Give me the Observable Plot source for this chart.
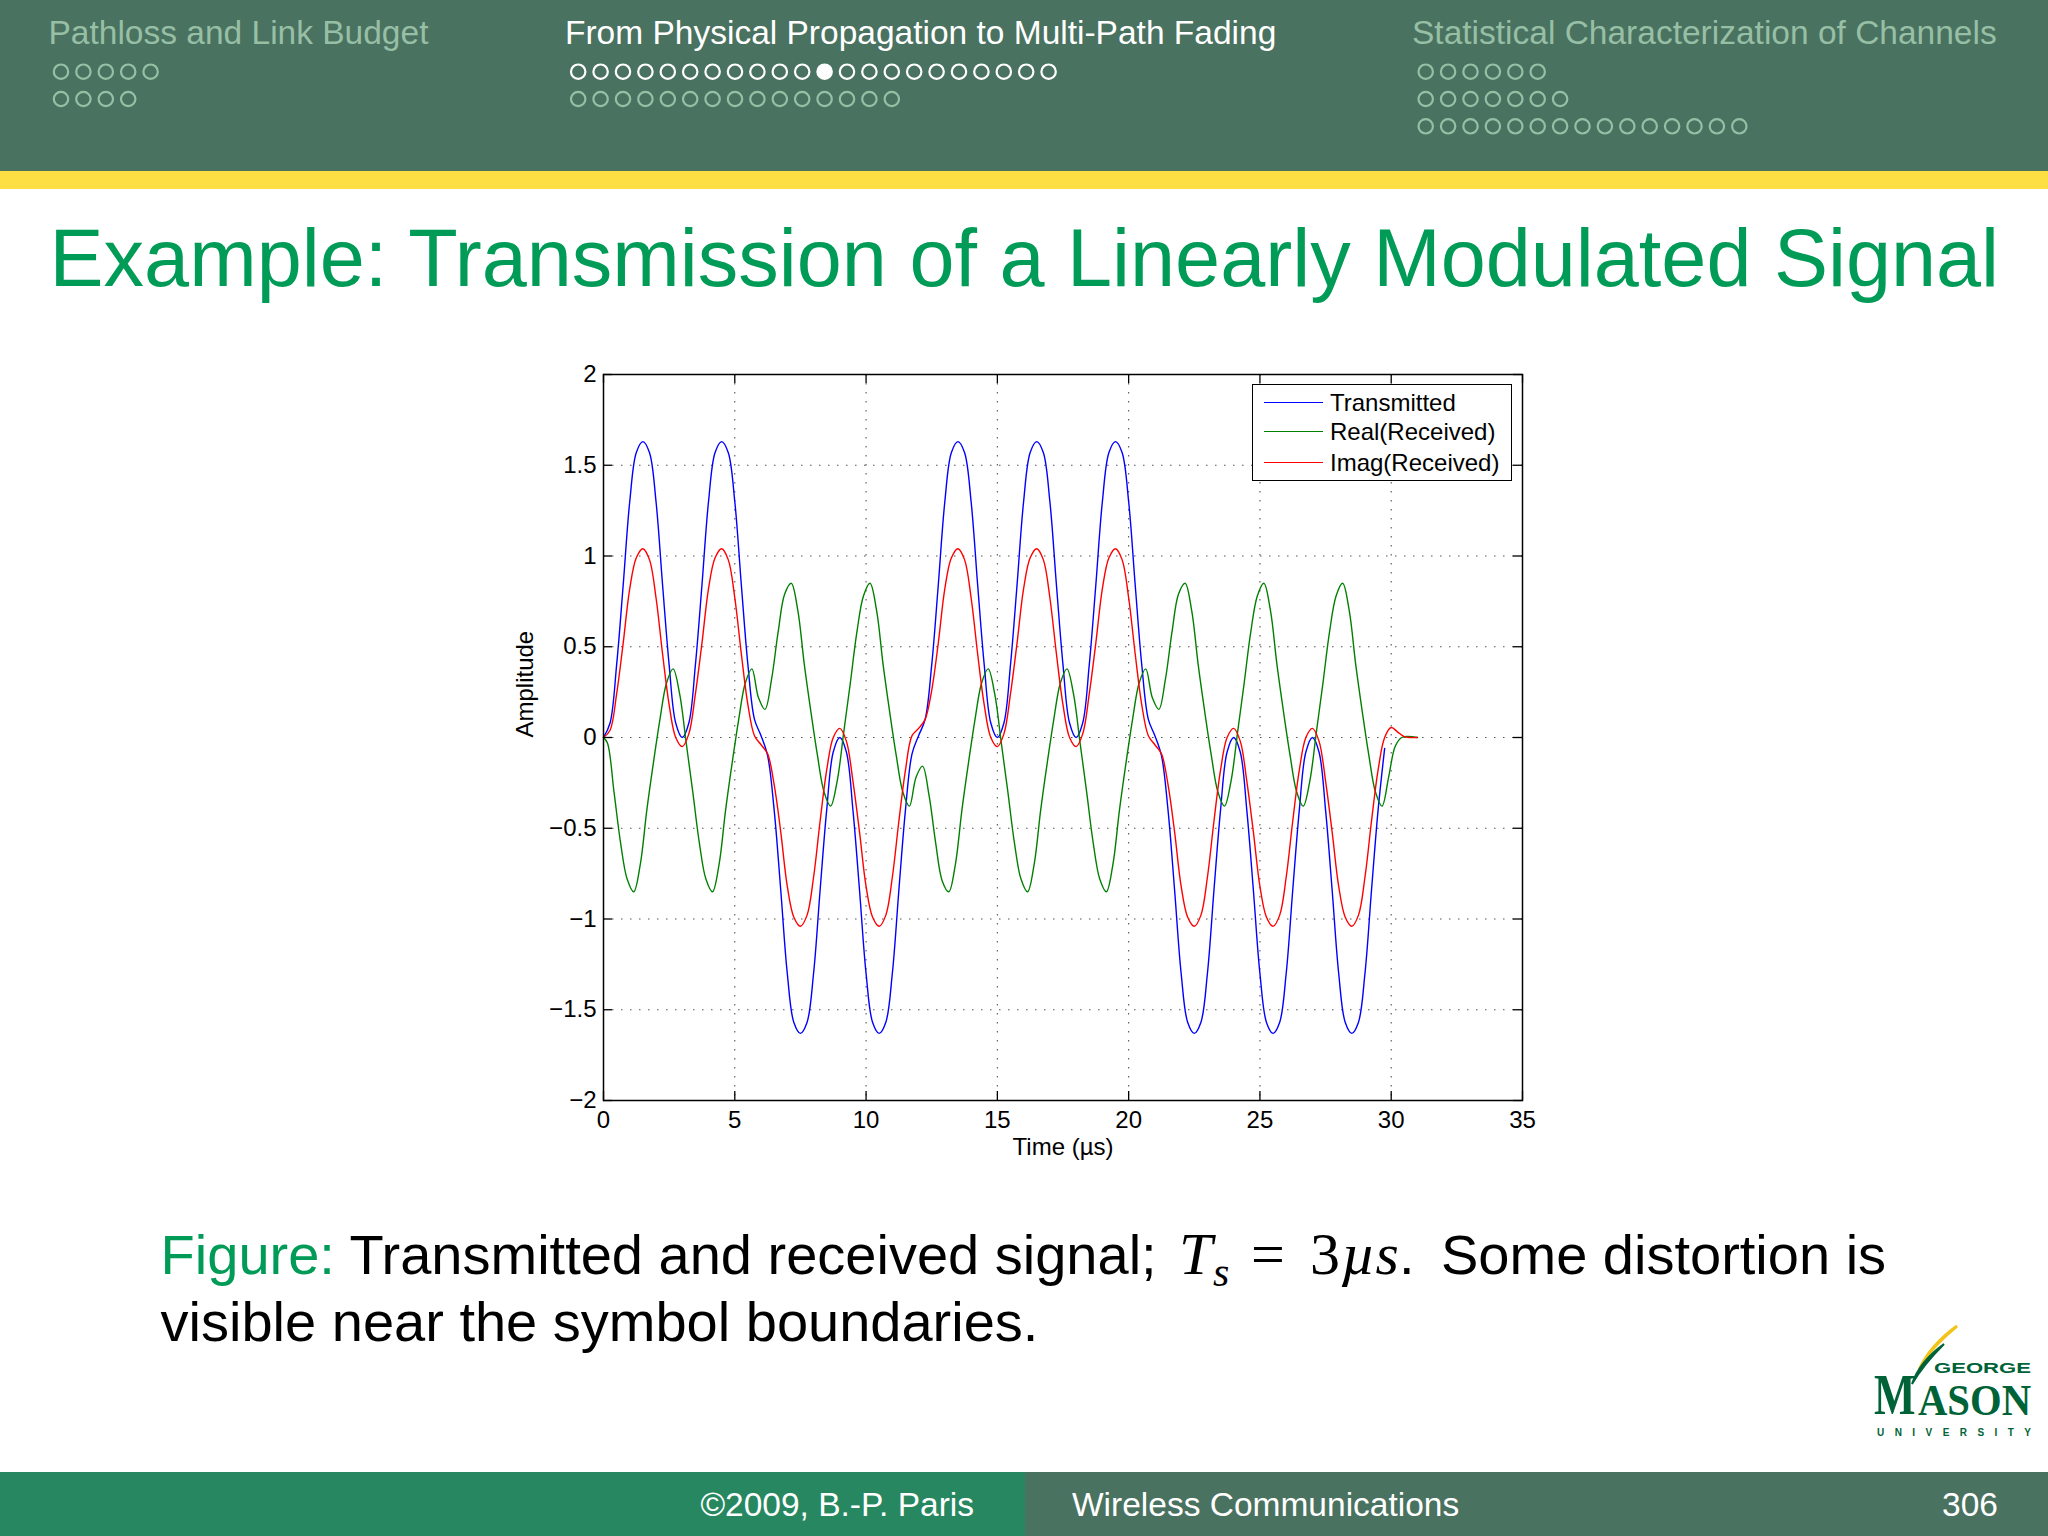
<!DOCTYPE html>
<html><head><meta charset="utf-8">
<script src="https://cdn.jsdelivr.net/npm/d3@7"></script>
<script src="https://cdn.jsdelivr.net/npm/@observablehq/plot@0.6"></script>
<style>
html,body{margin:0;padding:0;background:#fff;}
#page{position:relative;width:2048px;height:1536px;overflow:hidden;background:#fff;font-family:"Liberation Sans",Arial,Helvetica,sans-serif;}
#bg{position:absolute;left:0;top:0;}
#chart{position:absolute;left:480px;top:340px;}
#legend{position:absolute;left:1252px;top:384px;width:258px;height:95px;border:1.4px solid #000;background:#fff;font-size:24px;color:#000;}
.lg-row{position:absolute;left:0;width:258px;height:30px;line-height:30px;}
.lg-line{position:absolute;left:11px;top:14px;width:59px;height:0;border-top:1.4px solid;}
.lg-text{position:absolute;left:77px;top:0;white-space:nowrap;}
</style>
</head><body>
<div id="page">
<svg id="bg" width="2048" height="1536" xmlns="http://www.w3.org/2000/svg" font-family="Liberation Sans, Arial, Helvetica, sans-serif">
  <rect x="0" y="0" width="2048" height="171" fill="#4a7260"/>
  <rect x="0" y="171" width="2048" height="18" fill="#fddf44"/>
  <text x="48.5" y="44" font-size="33.5" fill="#97bfa5">Pathloss and Link Budget</text>
  <text x="565" y="44" font-size="33.5" fill="#ffffff">From Physical Propagation to Multi-Path Fading</text>
  <text x="1412" y="44" font-size="33.5" fill="#97bfa5">Statistical Characterization of Channels</text>
  <g id="dots"></g>
  <text x="49.6" y="286" font-size="81" fill="#009b57">Example: Transmission of a Linearly Modulated Signal</text>
  <text y="1274" font-size="56" fill="#000">
    <tspan x="160.6" fill="#009b57">Figure:</tspan><tspan> Transmitted and received signal;</tspan>
    <tspan x="1179" font-size="60" font-family="Liberation Serif, DejaVu Serif, serif" font-style="italic">T</tspan>
    <tspan x="1213" dy="12" font-size="42" font-family="Liberation Serif, DejaVu Serif, serif" font-style="italic">s</tspan>
    <tspan x="1251" dy="-12" font-size="60" font-family="Liberation Serif, DejaVu Serif, serif">=</tspan>
    <tspan x="1310" font-size="60" font-family="Liberation Serif, DejaVu Serif, serif">3</tspan>
    <tspan x="1341" font-size="60" font-family="Liberation Serif, DejaVu Serif, serif" font-style="italic">µs</tspan><tspan>.</tspan>
    <tspan x="1441">Some distortion is</tspan>
  </text>
  <text x="160.6" y="1341" font-size="56" fill="#000">visible near the symbol boundaries.</text>
  <rect x="0" y="1472" width="1025" height="64" fill="#268760"/>
  <rect x="1025" y="1472" width="1023" height="64" fill="#4a7260"/>
  <text x="974" y="1516" font-size="33.5" fill="#fff" text-anchor="end">©2009, B.-P. Paris</text>
  <text x="1072" y="1516" font-size="33.5" fill="#fff">Wireless Communications</text>
  <text x="1998" y="1516" font-size="33.5" fill="#fff" text-anchor="end">306</text>
  <g id="logo" font-weight="bold" fill="#006338">
    <path d="M1957,1326 C1946,1334 1928,1350 1919,1370 C1925,1356 1940,1340 1957,1326 Z" fill="#f2c318" stroke="#f2c318" stroke-width="3"/>
    <path d="M1944,1344 C1930,1354 1918,1366 1912,1384 C1920,1370 1932,1356 1944,1344 Z" fill="#006338" stroke="#006338" stroke-width="2"/>
    <text x="1934" y="1373" font-size="14" textLength="97" lengthAdjust="spacingAndGlyphs">GEORGE</text>
    <text transform="translate(1874,1414) scale(0.88,1.15)" x="0" y="0" font-size="50" font-family="Liberation Serif, serif">M</text>
    <text x="1918" y="1415" font-size="44" font-family="Liberation Serif, serif" textLength="113" lengthAdjust="spacingAndGlyphs">ASON</text>
    <text x="1877" y="1436" font-size="10" textLength="154" lengthAdjust="spacing">UNIVERSITY</text>
  </g>
</svg>
<div id="chart"></div>
<div id="legend"></div>
</div>
<script>
// ---- data ----
const seriesNames = ["Transmitted", "Real(Received)", "Imag(Received)"];
const seriesColors = ["#0000ff", "#008000", "#ff0000"];

// Transmitted, sampled every 0.25 µs from 0 to 29.75 µs
const transmittedValues = [
  0, 0.08, 0.40, 0.84, 1.30, 1.57, 1.63, 1.57, 1.30, 0.84, 0.40, 0.08,
  0, 0.08, 0.40, 0.84, 1.30, 1.57, 1.63, 1.57, 1.30, 0.84, 0.40, 0.10,
  0.01, -0.10, -0.40, -0.84, -1.30, -1.57, -1.63, -1.57, -1.30, -0.84, -0.40, -0.08,
  0, -0.08, -0.40, -0.84, -1.30, -1.57, -1.63, -1.57, -1.30, -0.84, -0.40, -0.09,
  0.01, 0.10, 0.40, 0.84, 1.30, 1.57, 1.63, 1.57, 1.30, 0.84, 0.40, 0.08,
  0, 0.08, 0.40, 0.84, 1.30, 1.57, 1.63, 1.57, 1.30, 0.84, 0.40, 0.08,
  0, 0.08, 0.40, 0.84, 1.30, 1.57, 1.63, 1.57, 1.30, 0.84, 0.40, 0.10,
  0.01, -0.10, -0.40, -0.84, -1.30, -1.57, -1.63, -1.57, -1.30, -0.84, -0.40, -0.08,
  0, -0.08, -0.40, -0.84, -1.30, -1.57, -1.63, -1.57, -1.30, -0.84, -0.40, -0.08,
  0, -0.08, -0.40, -0.84, -1.30, -1.57, -1.63, -1.57, -1.30, -0.84, -0.40, -0.06
];

// Real(Received): t = 0, then 0.15, 0.40, ... 30.40 µs (every 0.25), then 31
const realReceivedValues = [
  0,
  -0.03, -0.30, -0.58, -0.78, -0.85, -0.70, -0.40, -0.14, 0.10, 0.30, 0.378, 0.24,
  -0.03, -0.30, -0.58, -0.78, -0.85, -0.70, -0.40, -0.14, 0.10, 0.30, 0.378, 0.22,
  0.155, 0.32, 0.58, 0.79, 0.85, 0.70, 0.40, 0.14, -0.10, -0.30, -0.378, -0.24,
  0.03, 0.30, 0.58, 0.78, 0.85, 0.70, 0.40, 0.14, -0.10, -0.30, -0.378, -0.22,
  -0.158, -0.32, -0.58, -0.79, -0.85, -0.70, -0.40, -0.14, 0.10, 0.30, 0.378, 0.24,
  -0.03, -0.30, -0.58, -0.78, -0.85, -0.70, -0.40, -0.14, 0.10, 0.30, 0.378, 0.24,
  -0.03, -0.30, -0.58, -0.78, -0.85, -0.70, -0.40, -0.14, 0.10, 0.30, 0.378, 0.22,
  0.155, 0.32, 0.58, 0.79, 0.85, 0.70, 0.40, 0.14, -0.10, -0.30, -0.378, -0.24,
  0.03, 0.30, 0.58, 0.78, 0.85, 0.70, 0.40, 0.14, -0.10, -0.30, -0.378, -0.24,
  0.03, 0.30, 0.58, 0.78, 0.85, 0.70, 0.40, 0.14, -0.10, -0.30, -0.378, -0.22,
  -0.05, 0,
  0
];

// Imag(Received), sampled every 0.25 µs from 0 to 31 µs
const imagReceivedValues = [
  0, 0.04, 0.24, 0.52, 0.82, 0.99, 1.04, 0.98, 0.77, 0.46, 0.18, 0.0,
  -0.05, 0.02, 0.24, 0.52, 0.82, 0.99, 1.04, 0.98, 0.77, 0.46, 0.18, 0.01,
  -0.04, -0.09, -0.26, -0.52, -0.82, -0.99, -1.04, -0.98, -0.77, -0.46, -0.18, 0.0,
  0.05, -0.02, -0.24, -0.52, -0.82, -0.99, -1.04, -0.98, -0.77, -0.46, -0.18, 0.01,
  0.05, 0.10, 0.26, 0.52, 0.82, 0.99, 1.04, 0.98, 0.77, 0.46, 0.18, 0.0,
  -0.05, 0.02, 0.24, 0.52, 0.82, 0.99, 1.04, 0.98, 0.77, 0.46, 0.18, 0.0,
  -0.05, 0.02, 0.24, 0.52, 0.82, 0.99, 1.04, 0.98, 0.77, 0.46, 0.18, 0.01,
  -0.04, -0.09, -0.26, -0.52, -0.82, -0.99, -1.04, -0.98, -0.77, -0.46, -0.18, 0.0,
  0.05, -0.02, -0.24, -0.52, -0.82, -0.99, -1.04, -0.98, -0.77, -0.46, -0.18, 0.0,
  0.05, -0.02, -0.24, -0.52, -0.82, -0.99, -1.04, -0.98, -0.77, -0.46, -0.18, 0.0,
  0.055, 0.03, 0.005, 0, 0
];

const xTicks = [0, 5, 10, 15, 20, 25, 30, 35];
const xTickLabels = ["0", "5", "10", "15", "20", "25", "30", "35"];
const yTicks = [-2, -1.5, -1, -0.5, 0, 0.5, 1, 1.5, 2];
const yTickLabels = ["−2", "−1.5", "−1", "−0.5", "0", "0.5", "1", "1.5", "2"];
const xLabel = "Time (µs)";
const yLabel = "Amplitude";

// ---- sample times ----
const transmittedTimes = transmittedValues.map((_, i) => i * 0.25);
const imagTimes = imagReceivedValues.map((_, i) => i * 0.25);
const realTimes = [0, ...realReceivedValues.slice(1, -1).map((_, k) => 0.15 + 0.25 * k), 31];

const transmitted = transmittedTimes.map((t, i) => ({t, v: transmittedValues[i]}));
const realReceived = realTimes.map((t, i) => ({t, v: realReceivedValues[i]}));
const imagReceived = imagTimes.map((t, i) => ({t, v: imagReceivedValues[i]}));

// ---- header navigation dots (slide decoration) ----
(function () {
  const g = document.getElementById("dots");
  const muted = "#97bfa5";
  function row(x0, y, n, color, filled) {
    for (let i = 0; i < n; i++) {
      const c = document.createElementNS("http://www.w3.org/2000/svg", "circle");
      c.setAttribute("cx", x0 + i * 22.4);
      c.setAttribute("cy", y);
      c.setAttribute("r", 7.2);
      c.setAttribute("stroke", color);
      c.setAttribute("stroke-width", 2.2);
      c.setAttribute("fill", i === filled ? color : "none");
      g.appendChild(c);
    }
  }
  row(61, 71.7, 5, muted, -1);
  row(61, 99, 4, muted, -1);
  row(578.2, 71.7, 22, "#ffffff", 11);
  row(578.2, 99, 15, muted, -1);
  row(1425.7, 71.7, 6, muted, -1);
  row(1425.7, 99, 7, muted, -1);
  row(1425.7, 126.3, 15, muted, -1);
})();

// ---- chart ----
const W = 1100, H = 860, mL = 123, mT = 34, mR = 58, mB = 100;
const plotW = W - mL - mR, plotH = H - mT - mB;
const tickLen = 9;
const gridX = xTicks.filter(d => d > 0 && d < 35);
const gridY = yTicks.filter(d => d > -2 && d < 2);

const chart = Plot.plot({
  width: W, height: H,
  marginLeft: mL, marginTop: mT, marginRight: mR, marginBottom: mB,
  x: {domain: [0, 35]},
  y: {domain: [-2, 2]},
  style: {fontFamily: "Liberation Sans, Arial, Helvetica, sans-serif", fontSize: "24px", color: "#000", background: "transparent", overflow: "visible"},
  marks: [
    Plot.ruleX(gridX, {x: d => d, stroke: "#555", strokeWidth: 1.1, strokeDasharray: "1.5,7.5"}),
    Plot.ruleY(gridY, {y: d => d, stroke: "#555", strokeWidth: 1.1, strokeDasharray: "1.5,7.5"}),
    Plot.line(transmitted, {x: "t", y: "v", stroke: seriesColors[0], strokeWidth: 1.4, curve: "catmull-rom"}),
    Plot.line(realReceived, {x: "t", y: "v", stroke: seriesColors[1], strokeWidth: 1.4, curve: "catmull-rom"}),
    Plot.line(imagReceived, {x: "t", y: "v", stroke: seriesColors[2], strokeWidth: 1.4, curve: "catmull-rom"}),
    Plot.ruleX(xTicks, {x: d => d, insetTop: plotH - tickLen, stroke: "#000", strokeWidth: 1.3}),
    Plot.ruleX(xTicks, {x: d => d, insetBottom: plotH - tickLen, stroke: "#000", strokeWidth: 1.3}),
    Plot.ruleY(yTicks, {y: d => d, insetRight: plotW - tickLen, stroke: "#000", strokeWidth: 1.3}),
    Plot.ruleY(yTicks, {y: d => d, insetLeft: plotW - tickLen, stroke: "#000", strokeWidth: 1.3}),
    Plot.frame({stroke: "#000", strokeWidth: 1.5}),
    Plot.axisX({ticks: xTicks, tickSize: 0, tickPadding: 10, tickFormat: d => xTickLabels[xTicks.indexOf(d)], label: null}),
    Plot.axisY({ticks: yTicks, tickSize: 0, tickPadding: 7, tickFormat: d => yTickLabels[yTicks.indexOf(d)], label: null}),
    Plot.text([xLabel], {frameAnchor: "bottom", dy: 47, text: d => d, lineAnchor: "middle", fill: "#000"}),
    Plot.text([yLabel], {frameAnchor: "left", dx: -78, rotate: -90, text: d => d, lineAnchor: "middle", fill: "#000"})
  ]
});
document.getElementById("chart").appendChild(chart);

// ---- legend ----
(function () {
  const lg = document.getElementById("legend");
  const centers = [18, 47, 78];
  seriesNames.forEach((name, i) => {
    const r = document.createElement("div");
    r.className = "lg-row";
    r.style.top = (centers[i] - 15) + "px";
    const ln = document.createElement("div");
    ln.className = "lg-line";
    ln.style.borderTopColor = seriesColors[i];
    const tx = document.createElement("div");
    tx.className = "lg-text";
    tx.textContent = name;
    r.appendChild(ln); r.appendChild(tx);
    lg.appendChild(r);
  });
})();
</script>
</body></html>
